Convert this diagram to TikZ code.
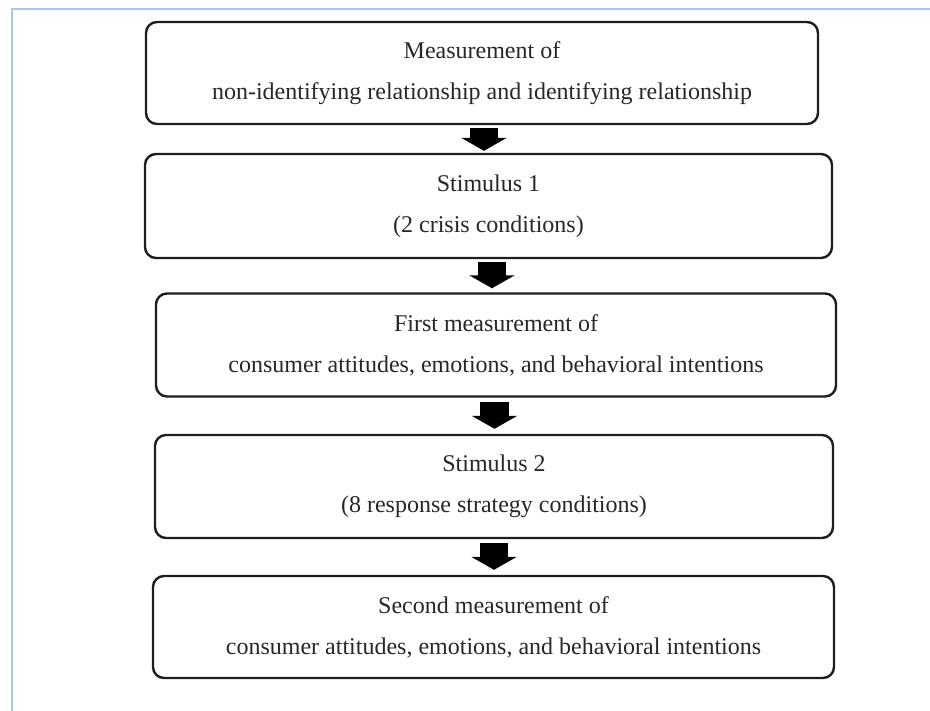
\documentclass[tikz,border=0pt]{standalone}
\usepackage{fontspec}
\setmainfont{Liberation Serif}
\usetikzlibrary{arrows.meta}
\definecolor{framecol}{HTML}{A9C6E6}
\definecolor{inkcol}{HTML}{1E1E1E}
\definecolor{textcol}{HTML}{2A2626}
\begin{document}
\begin{tikzpicture}[x=1pt,y=-1pt,
  stepbox/.style={draw=inkcol, line width=2.4pt, rounded corners=11pt, fill=white,
    align=center, inner sep=0pt, text=textcol,
    font=\fontsize{24}{41}\selectfont},
  blockarrow/.style={draw=black, line width=28.5pt,
    -{Triangle[length=13pt, width=45pt]}}]
  \useasboundingbox (0,0) rectangle (930,711);
  % page frame
  \draw[framecol, line width=1.8pt] (12,711) -- (12,9) -- (930,9);
  % steps of the procedure
  \node[stepbox, minimum width=672pt, minimum height=102pt] (b1) at (482,73)
    {Measurement of\\non-identifying relationship and identifying relationship};
  \node[stepbox, minimum width=687pt, minimum height=104pt] (b2) at (488.5,206)
    {Stimulus 1\\(2 crisis conditions)};
  \node[stepbox, minimum width=680pt, minimum height=103pt] (b3) at (496,345)
    {First measurement of\\consumer attitudes, emotions, and behavioral intentions};
  \node[stepbox, minimum width=678pt, minimum height=103pt] (b4) at (494,486.5)
    {Stimulus 2\\(8 response strategy conditions)};
  \node[stepbox, minimum width=681pt, minimum height=102pt] (b5) at (493.5,627)
    {Second measurement of\\consumer attitudes, emotions, and behavioral intentions};
  % arrows between steps
  \draw[blockarrow] ([shift={(2,3)}]b1.south) -- ([shift={(-4.5,-2)}]b2.north);
  \draw[blockarrow] ([shift={(3.5,3)}]b2.south) -- ([shift={(-4,-4)}]b3.north);
  \draw[blockarrow] ([shift={(-1.5,4)}]b3.south) -- ([shift={(0.5,-5)}]b4.north);
  \draw[blockarrow] ([shift={(0,4)}]b4.south) -- ([shift={(0.5,-5)}]b5.north);
\end{tikzpicture}
\end{document}
